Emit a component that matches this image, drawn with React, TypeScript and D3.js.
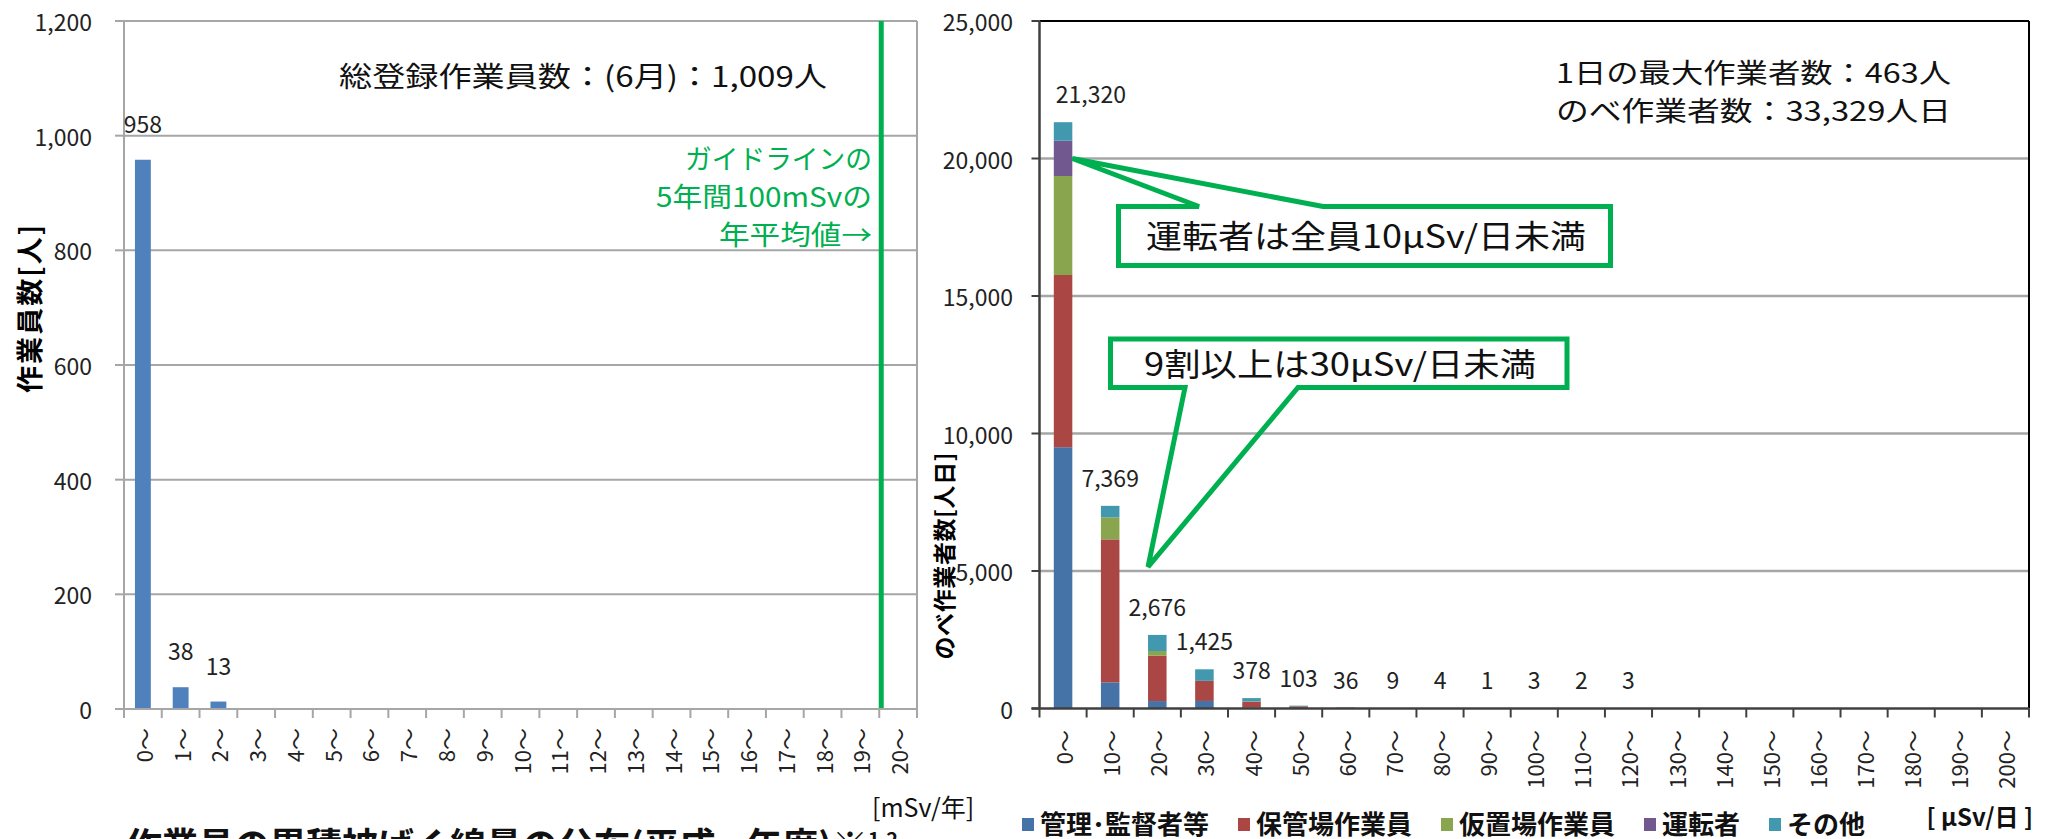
import React, { useMemo } from "react";
import * as d3 from "d3";

// ---- Annual cumulative dose distribution (mSv/年) ----
const annualBins = [
  "0〜", "1〜", "2〜", "3〜", "4〜", "5〜", "6〜", "7〜", "8〜", "9〜", "10〜",
  "11〜", "12〜", "13〜", "14〜", "15〜", "16〜", "17〜", "18〜", "19〜", "20〜",
];
const workerCounts = [958, 38, 13, 0, 0, 0, 0, 0, 0, 0, 0, 0, 0, 0, 0, 0, 0, 0, 0, 0, 0];
const annualTicks = [0, 200, 400, 600, 800, 1000, 1200];
const guidelineBin = "20〜"; // 100mSv / 5 years → 20 mSv per year

// ---- Daily dose distribution (μSv/日), person-days by job type ----
const dailyBins = [
  "0〜", "10〜", "20〜", "30〜", "40〜", "50〜", "60〜", "70〜", "80〜", "90〜", "100〜",
  "110〜", "120〜", "130〜", "140〜", "150〜", "160〜", "170〜", "180〜", "190〜", "200〜",
];
const seriesNames = ["管理･監督者等", "保管場作業員", "仮置場作業員", "運転者", "その他"];
const managers = [9500, 950, 270, 275, 40, 10, 5, 0, 0, 0, 0, 0, 0, 0, 0, 0, 0, 0, 0, 0, 0];
const storageWorkers = [6264, 5200, 1650, 725, 210, 70, 15, 4, 0, 0, 0, 0, 0, 0, 0, 0, 0, 0, 0, 0, 0];
const tempSiteWorkers = [3600, 800, 170, 5, 8, 0, 0, 0, 0, 0, 0, 0, 0, 0, 0, 0, 0, 0, 0, 0, 0];
const drivers = [1283, 0, 0, 0, 0, 0, 0, 0, 0, 0, 0, 0, 0, 0, 0, 0, 0, 0, 0, 0, 0];
const others = [673, 419, 586, 420, 120, 23, 16, 5, 4, 1, 3, 2, 3, 0, 0, 0, 0, 0, 0, 0, 0];
const seriesColors = ["#4572A7", "#AA4643", "#89A54E", "#71588F", "#4198AF"];
const dailyTicks = [0, 5000, 10000, 15000, 20000, 25000];

const annualNote = "総登録作業員数：(6月)：1,009人";
const guidelineLines = ["ガイドラインの", "5年間100mSvの", "年平均値→"];
const dailyNotes = ["1日の最大作業者数：463人", "のべ作業者数：33,329人日"];
const driverCallout = "運転者は全員10μSv/日未満";
const majorityCallout = "9割以上は30μSv/日未満";

const FONT = "'Noto Sans CJK JP', 'Noto Sans', sans-serif";
const GREEN = "#00B050";
const GRID = "#A6A6A6";

const fmt = d3.format(",");

function measure(text: string, font: string): number {
  const c = document.createElement("canvas").getContext("2d");
  if (!c) return text.length * 26;
  c.font = font;
  return c.measureText(text).width;
}

export default function App() {
  const W = 2053;
  const H = 839;

  // left chart frame
  const L = { x0: 124, x1: 917, y0: 21, y1: 709 };
  const xL = d3.scaleBand<string>().domain(annualBins).range([L.x0, L.x1]).padding(0);
  const yL = d3.scaleLinear().domain([0, 1200]).range([L.y1, L.y0]);
  const barWL = xL.bandwidth() * 0.42;

  // right chart frame
  const R = { x0: 1039.5, x1: 2029, y0: 21, y1: 708.5 };
  const xR = d3.scaleBand<string>().domain(dailyBins).range([R.x0, R.x1]).padding(0);
  const yR = d3.scaleLinear().domain([0, 25000]).range([R.y1, R.y0]);
  const barWR = xR.bandwidth() * 0.393;

  const rows = dailyBins.map((bin, i) => ({
    bin,
    [seriesNames[0]]: managers[i],
    [seriesNames[1]]: storageWorkers[i],
    [seriesNames[2]]: tempSiteWorkers[i],
    [seriesNames[3]]: drivers[i],
    [seriesNames[4]]: others[i],
  }));
  const stacked = d3.stack<any>().keys(seriesNames)(rows);
  const totals = dailyBins.map((_, i) =>
    managers[i] + storageWorkers[i] + tempSiteWorkers[i] + drivers[i] + others[i]
  );

  const legendFont = `bold 26px ${FONT}`;
  const legendItems = useMemo(() => {
    let x = 1022;
    return seriesNames.map((name, i) => {
      const item = { name, color: seriesColors[i], x };
      x += 18 + measure(name, legendFont) + 29;
      return item;
    });
  }, []);

  // callout geometry
  const tip1 = { x: (xR(dailyBins[0]) as number) + (xR.bandwidth() + barWR) / 2, y: yR(20000) };
  const box1 = { x1: 1118.5, x2: 1610.5, y1: 206.5, y2: 265.5, a: 1199, b: 1323 };
  const tip2 = { x: (xR(dailyBins[2]) as number) + (xR.bandwidth() - barWR) / 2, y: yR(5150) };
  const box2 = { x1: 1110.5, x2: 1567, y1: 339, y2: 387.5, a: 1185, b: 1298 };

  const guideX = xL(guidelineBin) as number;

  return (
    <svg
      width={W}
      height={H}
      viewBox={`0 0 ${W} ${H}`}
      style={{ position: "absolute", left: 0, top: 0, display: "block", background: "#fff" }}
      fontFamily={FONT}
    >
      <rect x={0} y={0} width={W} height={H} fill="#fff" />

      {/* ===== Left chart ===== */}
      <g>
        {annualTicks.map((t) => (
          <line key={t} x1={L.x0} x2={L.x1} y1={yL(t)} y2={yL(t)} stroke={GRID} strokeWidth={2} />
        ))}
        <line x1={L.x1} x2={L.x1} y1={L.y0} y2={L.y1} stroke={GRID} strokeWidth={2} />
        {workerCounts.map((v, i) => {
          const cx = (xL(annualBins[i]) as number) + xL.bandwidth() / 2;
          return v > 0 ? (
            <rect key={i} x={cx - barWL / 2} y={yL(v)} width={barWL} height={yL(0) - yL(v)} fill="#4F81BD" />
          ) : null;
        })}
        <line x1={guideX + 2} x2={guideX + 2} y1={L.y0} y2={L.y1} stroke={GREEN} strokeWidth={5} />
        {/* axes */}
        <line x1={L.x0} x2={L.x0} y1={L.y0} y2={L.y1} stroke={GRID} strokeWidth={2} />
        <line x1={L.x0 - 9} x2={L.x1} y1={L.y1} y2={L.y1} stroke={GRID} strokeWidth={2} />
        {annualTicks.map((t) => (
          <g key={t}>
            <line x1={L.x0 - 9} x2={L.x0} y1={yL(t)} y2={yL(t)} stroke={GRID} strokeWidth={2} />
            <text x={92} y={yL(t)} textAnchor="end" dominantBaseline="central" fontSize={23} fill="#222">
              {fmt(t)}
            </text>
          </g>
        ))}
        {annualBins.map((b) => (
          <line
            key={"t" + b}
            x1={xL(b) as number}
            x2={xL(b) as number}
            y1={L.y1}
            y2={L.y1 + 9}
            stroke={GRID}
            strokeWidth={2}
          />
        ))}
        <line x1={L.x1} x2={L.x1} y1={L.y1} y2={L.y1 + 9} stroke={GRID} strokeWidth={2} />
        {annualBins.map((b) => (
          <text
            key={"l" + b}
            transform={`translate(${(xL(b) as number) + xL.bandwidth() / 2},728) rotate(-90)`}
            textAnchor="end"
            dominantBaseline="central"
            fontSize={22}
            fill="#222"
          >
            {b}
          </text>
        ))}
        {workerCounts.map((v, i) =>
          v > 0 ? (
            <text
              key={"v" + i}
              x={(xL(annualBins[i]) as number) + xL.bandwidth() / 2}
              y={yL(v) - 27}
              textAnchor="middle"
              fontSize={23}
              fill="#222"
            >
              {fmt(v)}
            </text>
          ) : null
        )}
        <text
          transform="translate(28,309) rotate(-90)"
          textAnchor="middle"
          dominantBaseline="central"
          fontSize={27}
          fontWeight="bold"
          textLength={168}
          lengthAdjust="spacing"
        >
          作業員数[人]
        </text>
        <text x={339} y={87} fontSize={28} textLength={488} lengthAdjust="spacingAndGlyphs" fill="#111">
          {annualNote}
        </text>
        {guidelineLines.map((s, i) => (
          <text
            key={s}
            x={872}
            y={169 + i * 38}
            textAnchor="end"
            fontSize={27}
            fill={GREEN}
            textLength={[187, 216, 153][i]}
            lengthAdjust="spacingAndGlyphs"
          >
            {s}
          </text>
        ))}
        <text x={872} y={817} fontSize={25} fill="#111">
          [mSv/年]
        </text>
        <text x={126} y={859} fontSize={36} fontWeight="bold" fill="#111">
          作業員の累積被ばく線量の分布(平成<tspan fontSize={26}>30</tspan>年度)※
          <tspan fontSize={20} dy={-12}>1,2</tspan>
        </text>
      </g>

      {/* ===== Right chart ===== */}
      <g>
        {dailyTicks.slice(1, -1).map((t) => (
          <line key={t} x1={R.x0} x2={R.x1} y1={yR(t)} y2={yR(t)} stroke={GRID} strokeWidth={2.5} />
        ))}
        {stacked.map((s, si) => (
          <g key={s.key} fill={seriesColors[si]}>
            {s.map((d, i) => {
              const h = yR(d[0]) - yR(d[1]);
              if (h <= 0) return null;
              const cx = (xR(dailyBins[i]) as number) + xR.bandwidth() / 2;
              return <rect key={i} x={cx - barWR / 2} y={yR(d[1])} width={barWR} height={h} />;
            })}
          </g>
        ))}
        {/* frame */}
        <line x1={R.x0} x2={R.x1} y1={R.y0} y2={R.y0} stroke="#000" strokeWidth={2} />
        <line x1={R.x1} x2={R.x1} y1={R.y0} y2={R.y1} stroke="#000" strokeWidth={2} />
        <line x1={R.x0} x2={R.x0} y1={R.y0} y2={R.y1} stroke="#404040" strokeWidth={2.5} />
        <line x1={R.x0 - 8} x2={R.x1} y1={R.y1} y2={R.y1} stroke="#404040" strokeWidth={2.5} />
        {dailyTicks.map((t) => (
          <g key={t}>
            <line x1={R.x0 - 8} x2={R.x0} y1={yR(t)} y2={yR(t)} stroke="#404040" strokeWidth={2} />
            <text x={1013} y={yR(t)} textAnchor="end" dominantBaseline="central" fontSize={23} fill="#222">
              {fmt(t)}
            </text>
          </g>
        ))}
        {dailyBins.map((b) => (
          <line
            key={"t" + b}
            x1={xR(b) as number}
            x2={xR(b) as number}
            y1={R.y1}
            y2={R.y1 + 9}
            stroke="#404040"
            strokeWidth={2}
          />
        ))}
        <line x1={R.x1} x2={R.x1} y1={R.y1} y2={R.y1 + 9} stroke="#404040" strokeWidth={2} />
        {dailyBins.map((b) => (
          <text
            key={"l" + b}
            transform={`translate(${(xR(b) as number) + xR.bandwidth() / 2},730) rotate(-90)`}
            textAnchor="end"
            dominantBaseline="central"
            fontSize={22}
            fill="#222"
          >
            {b}
          </text>
        ))}
        {totals.map((v, i) => {
          if (v <= 0) return null;
          const left = (xR(dailyBins[i]) as number) + (xR.bandwidth() - barWR) / 2;
          const first = i === 0;
          return (
            <text
              key={"v" + i}
              x={first ? left + 2 : left + barWR / 2}
              y={yR(v) - 19}
              textAnchor={first ? "start" : "middle"}
              fontSize={23}
              fill="#222"
            >
              {fmt(v)}
            </text>
          );
        })}
        <text
          transform="translate(943,556) rotate(-90)"
          textAnchor="middle"
          dominantBaseline="central"
          fontSize={23}
          fontWeight="bold"
          textLength={207}
          lengthAdjust="spacing"
        >
          のべ作業者数[人日]
        </text>
        {dailyNotes.map((s, i) => (
          <text
            key={s}
            x={1556}
            y={83 + i * 38}
            fontSize={27}
            textLength={395}
            lengthAdjust="spacingAndGlyphs"
            fill="#111"
          >
            {s}
          </text>
        ))}

        {/* callout: drivers */}
        <rect x={box1.x1} y={box1.y1} width={box1.x2 - box1.x1} height={box1.y2 - box1.y1} fill="#fff" />
        <path
          d={`M${box1.x1},${box1.y1}L${box1.a},${box1.y1}L${tip1.x},${tip1.y}L${box1.b},${box1.y1}L${box1.x2},${box1.y1}L${box1.x2},${box1.y2}L${box1.x1},${box1.y2}Z`}
          fill="none"
          stroke={GREEN}
          strokeWidth={5}
          strokeLinejoin="miter"
        />
        <text x={1146} y={248} fontSize={32} textLength={440} lengthAdjust="spacingAndGlyphs" fill="#111">
          {driverCallout}
        </text>

        {/* callout: 30μSv */}
        <rect x={box2.x1} y={box2.y1} width={box2.x2 - box2.x1} height={box2.y2 - box2.y1} fill="#fff" />
        <path
          d={`M${box2.x1},${box2.y1}L${box2.x2},${box2.y1}L${box2.x2},${box2.y2}L${box2.b},${box2.y2}L${tip2.x},${tip2.y}L${box2.a},${box2.y2}L${box2.x1},${box2.y2}Z`}
          fill="none"
          stroke={GREEN}
          strokeWidth={5}
          strokeLinejoin="miter"
        />
        <text x={1144} y={376} fontSize={32} textLength={392} lengthAdjust="spacingAndGlyphs" fill="#111">
          {majorityCallout}
        </text>

        {/* legend */}
        {legendItems.map((it) => (
          <g key={it.name}>
            <rect x={it.x} y={818} width={12} height={13} fill={it.color} />
            <text x={it.x + 18} y={834} fontSize={26} fontWeight="bold" fill="#111">
              {it.name}
            </text>
          </g>
        ))}
        <text x={2033} y={826} textAnchor="end" fontSize={24} fontWeight="bold" fill="#111">
          [ μSv/日 ]
        </text>
      </g>
    </svg>
  );
}
